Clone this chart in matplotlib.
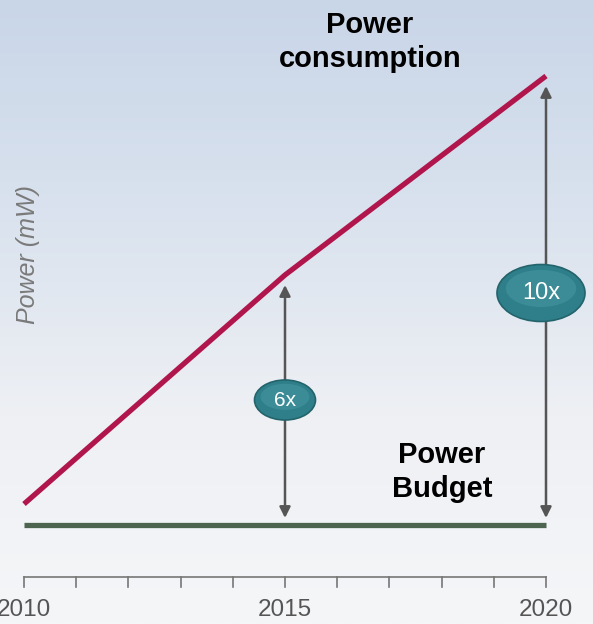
import numpy as np
import matplotlib.pyplot as plt
from matplotlib.patches import Ellipse
from matplotlib.colors import LinearSegmentedColormap

# data (power relative to budget)
years = [2010, 2015, 2020]
consumption = [1.42, 6.0, 9.98]
budget = 1.0
ratio_labels = ["6x", "10x"]
ratio_years = [2015, 2020]
tick_years = list(range(2010, 2021))
label_years = [2010, 2015, 2020]

PX, PY = 52.2, 50.0  # pixels per data unit

fig = plt.figure(figsize=(5.93, 6.24), dpi=100)
ax = fig.add_axes([0, 0, 1, 1])
x0, x1 = 2010 - 24 / PX, 2020 + 47 / PX
y0, y1 = -49 / PY, 575 / PY
ax.set_xlim(x0, x1)
ax.set_ylim(y0, y1)
ax.axis('off')


def px(x):
    return 2010 + (x - 24) / PX


def py(y):
    return (575 - y) / PY


# background gradient
bg = LinearSegmentedColormap.from_list('bg', ['#f5f6f8', '#eef0f4', '#d9e2ee', '#c9d6e8'])
grad = np.linspace(0, 1, 256).reshape(-1, 1)
ax.imshow(grad, cmap=bg, aspect='auto', extent=[x0, x1, y0, y1], origin='lower', zorder=0)

# lines
ax.plot(years, consumption, color='#b0154c', lw=3.8, solid_capstyle='butt', zorder=3)
ax.plot([2010, 2020], [budget, budget], color='#4d6450', lw=3.8, solid_capstyle='butt', zorder=3)

# double arrows
for yr, lab in zip(ratio_years, ratio_labels):
    top = np.interp(yr, years, consumption)
    ax.annotate('', xy=(yr, top - 0.2), xytext=(yr, budget + 0.14),
                arrowprops=dict(arrowstyle='<|-|>', color='#555555', lw=1.8,
                                mutation_scale=16, shrinkA=0, shrinkB=0), zorder=4)

# ellipses
ell = {"6x": (2015, py(400), 61 / PX, 40 / PY, 15),
       "10x": (px(541), py(293), 88 / PX, 57 / PY, 17)}
for lab, (cx, cy, w, h, fs) in ell.items():
    ax.add_patch(Ellipse((cx, cy), w, h, facecolor='#2f7f8a', edgecolor='#23636c', lw=1.2, zorder=5))
    ax.add_patch(Ellipse((cx, cy + h * 0.08), w * 0.8, h * 0.65, facecolor='#4e9ea8',
                         edgecolor='none', alpha=0.45, zorder=5))
    ax.text(cx, cy, lab, color='white', fontsize=fs, ha='center', va='center',
            family='Liberation Sans', zorder=6)

# x axis
ax_y = py(577)
tick_len = 10 / PY
ax.plot([2010, 2020], [ax_y, ax_y], color='#777777', lw=1.2, zorder=2)
for t in tick_years:
    ax.plot([t, t], [ax_y, ax_y - tick_len], color='#777777', lw=1.2, zorder=2)
for t in label_years:
    ax.text(t, py(610), str(t), color='#555555', fontsize=17.5, ha='center', va='center',
            family='Liberation Sans')

# labels
ax.text(px(28), py(255), 'Power (mW)', rotation=90, style='italic',
        color='#7a7a7a', fontsize=18, ha='center', va='center', family='Liberation Sans')
for txt, x, y in [('Power', 370, 33), ('consumption', 370, 67),
                  ('Power', 442, 463), ('Budget', 442, 497)]:
    ax.text(px(x), py(y), txt, fontweight='bold', fontsize=21, ha='center', va='baseline',
            family='Liberation Sans')

fig.savefig('out.png', dpi=100)
